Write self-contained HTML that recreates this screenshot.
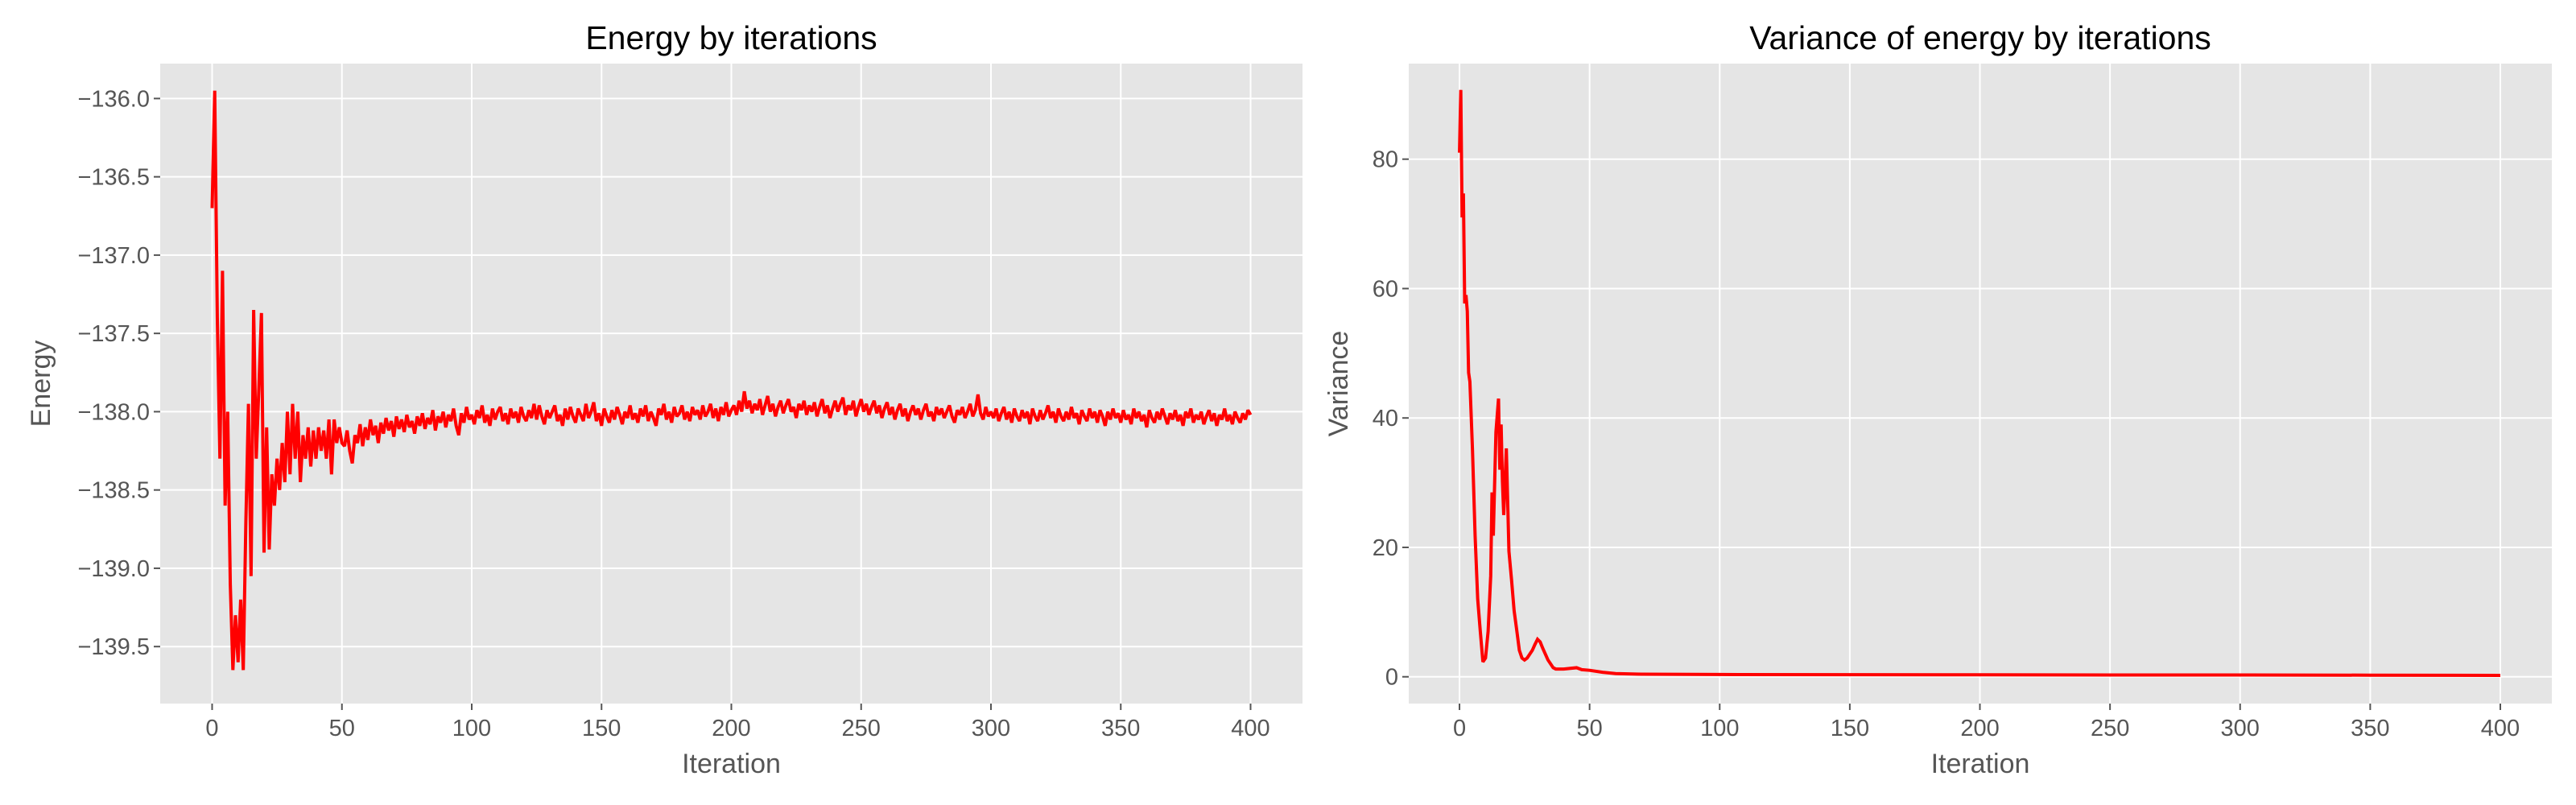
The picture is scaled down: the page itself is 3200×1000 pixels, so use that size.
<!DOCTYPE html>
<html><head><meta charset="utf-8"><style>
html,body{margin:0;padding:0;background:#fff;}
svg{display:block;font-family:"Liberation Sans",sans-serif;}
</style></head><body>
<svg id="fig" width="3200" height="1000" viewBox="0 0 3200 1000" xmlns="http://www.w3.org/2000/svg">
<rect width="3200" height="1000" fill="#fff"/>
<g id="left"></g>
<g id="right"></g>
</svg>
<script>
// Energy data (one value per iteration 0..400)
const energyVals = [
-136.7,-135.95,-137.4,-138.3,-137.1,-138.6,-138.0,-139.1,-139.65,-139.3,-139.6,-139.2,-139.65,-138.7,-137.95,-139.05,-137.35,-138.3,-137.85,-137.37,-138.9,-138.1,-138.88,-138.4,-138.6,-138.3,-138.5,-138.2,-138.45,-138.0,-138.4,-137.95,-138.3,-138.0,-138.45,-138.15,-138.3,-138.1,-138.35,-138.12,-138.3,-138.1,-138.25,-138.12,-138.3,-138.05,-138.4,-138.05,-138.2,-138.1,-138.2,
-138.22,-138.12,-138.25,-138.33,-138.15,-138.2,-138.08,-138.22,-138.1,-138.18,
-138.05,-138.15,-138.09,-138.2,-138.07,-138.14,-138.04,-138.12,-138.06,-138.16,
-138.03,-138.11,-138.05,-138.13,-138.02,-138.1,-138.06,-138.14,-138.03,-138.09,
-138.01,-138.11,-138.04,-138.08,-137.99,-138.12,-138.03,-138.07,-138.0,-138.1,
-138.02,-138.06,-137.98,-138.09,-138.15,-138.01,-138.07,-137.97,-138.05,-138.02,
-138.08,-137.99,-138.04,-137.96,-138.07,-138.02,-138.09,-137.98,-138.05,-138.0,
-137.97,-138.06,-138.01,-138.08,-137.98,-138.04,-138.0,-138.07,-137.97,-138.03,
-138.06,-137.99,-138.04,-137.95,-138.05,-137.96,-138.03,-138.08,-137.99,-138.04,
-138.0,-137.96,-138.06,-138.02,-138.09,-137.98,-138.05,-137.97,-138.03,-138.07,
-137.98,-138.02,-138.06,-137.95,-138.04,-138.0,-137.94,-138.06,-138.01,-138.09,
-137.98,-138.03,-138.07,-137.99,-138.05,-137.97,-138.02,-138.08,-138.0,-138.04,
-137.96,-138.05,-138.01,-138.07,-137.98,-138.03,-137.96,-138.06,-138.0,-138.04,
-138.09,-137.98,-138.02,-137.95,-138.05,-138.0,-138.07,-137.97,-138.03,-138.01,
-137.96,-138.05,-138.0,-138.06,-137.97,-138.02,-137.99,-138.05,-137.96,-138.03,
-138.0,-137.95,-138.04,-137.98,-138.06,-137.97,-138.02,-137.94,-138.03,-137.99,
-137.96,-138.02,-137.93,-138.0,-137.87,-137.98,-137.93,-138.01,-137.95,-137.99,
-137.92,-138.02,-137.96,-137.9,-138.0,-137.95,-138.03,-137.97,-137.93,-138.01,
-137.96,-137.92,-138.0,-137.97,-138.04,-137.95,-137.99,-137.93,-138.02,-137.96,
-138.0,-137.94,-138.03,-137.97,-137.92,-138.01,-137.96,-138.04,-137.98,-137.93,
-138.0,-137.95,-137.91,-138.02,-137.96,-137.99,-137.93,-138.03,-137.97,-137.92,
-138.0,-137.95,-138.02,-137.97,-137.93,-138.01,-137.96,-138.04,-137.98,-137.94,
-138.02,-137.97,-138.05,-137.99,-137.95,-138.03,-137.98,-138.06,-138.0,-137.96,
-138.02,-137.98,-138.05,-137.99,-137.95,-138.03,-138.0,-138.06,-137.97,-138.02,
-137.98,-138.04,-138.0,-137.96,-138.03,-138.07,-137.99,-138.02,-137.97,-138.04,
-138.0,-137.95,-138.03,-137.99,-137.89,-138.01,-138.05,-137.97,-138.03,-138.0,
-138.04,-137.98,-138.06,-138.01,-137.97,-138.05,-138.0,-138.07,-137.98,-138.03,
-138.06,-137.99,-138.04,-138.0,-138.08,-137.98,-138.03,-138.06,-137.99,-138.05,
-138.01,-137.96,-138.04,-138.0,-138.07,-137.98,-138.03,-138.06,-138.0,-138.05,
-137.97,-138.04,-138.01,-138.08,-137.99,-138.03,-138.06,-137.98,-138.04,-138.0,
-138.07,-137.99,-138.03,-138.09,-138.0,-138.05,-137.98,-138.04,-138.01,-138.07,
-137.99,-138.05,-138.02,-138.08,-137.98,-138.04,-138.0,-138.06,-138.02,-138.1,
-137.99,-138.04,-138.07,-138.0,-138.05,-137.98,-138.03,-138.08,-138.01,-138.05,
-137.99,-138.06,-138.02,-138.09,-138.0,-138.04,-137.98,-138.07,-138.02,-138.05,
-138.0,-138.08,-138.03,-137.99,-138.06,-138.01,-138.09,-138.02,-138.05,-137.98,
-138.06,-138.02,-138.08,-138.0,-138.04,-138.07,-138.01,-138.05,-137.99,-138.02
];
const xTicks = [0,50,100,150,200,250,300,350,400];
const energyTicks = [-136.0,-136.5,-137.0,-137.5,-138.0,-138.5,-139.0,-139.5];
const energyTickLabels = ["\u2212136.0","\u2212136.5","\u2212137.0","\u2212137.5","\u2212138.0","\u2212138.5","\u2212139.0","\u2212139.5"];
// Variance data
const varIters = [0,0.5,1,1.5,2,2.5,3,3.5,4,5,6,7,8,9,10,11,12,12.5,13,14,15,15.5,16,16.5,17,18,19,20,21,22,23,24,25,26,27,28,29,30,31,32,33,34,35,36,37,40,45,47,50,55,60,70,80,100,150,200,250,300,350,400];
const varVals = [81,90.7,71,74.7,57.7,59,56.5,47,45.6,35,21.8,12,7,2.3,2.9,7,15.6,28.5,21.8,37.8,43,32,39,30.2,25,35.3,19.4,15,10.2,7.2,4.1,2.9,2.6,2.9,3.5,4.1,5,5.8,5.4,4.4,3.5,2.6,2,1.4,1.2,1.2,1.4,1.1,1.0,0.7,0.5,0.4,0.38,0.35,0.32,0.3,0.28,0.27,0.25,0.22];
const varTicks = [0,20,40,60,80];
const varTickLabels = ["0","20","40","60","80"];

const NS = "http://www.w3.org/2000/svg";
function mk(parent, tag, attrs, text){
  const e = document.createElementNS(NS, tag);
  for (const k in attrs) e.setAttribute(k, attrs[k]);
  if (text !== undefined) e.textContent = text;
  parent.appendChild(e);
  return e;
}
function drawChart(g, o){
  const X = v => o.x0 + (v - o.xmin) / (o.xmax - o.xmin) * (o.x1 - o.x0);
  const Y = v => o.y1 - (v - o.ymin) / (o.ymax - o.ymin) * (o.y1 - o.y0);
  const bg = mk(g, 'rect', {x:o.x0, y:o.y0, width:o.x1-o.x0, height:o.y1-o.y0, fill:'#e5e5e5'});
  
  
  o.xt.forEach(t => {
    const gl = mk(g, 'line', {x1:X(t), x2:X(t), y1:o.y0, y2:o.y1, stroke:'#fff', 'stroke-width':2});
    
    
    mk(g, 'line', {x1:X(t), x2:X(t), y1:o.y1, y2:o.y1+8, stroke:'#555', 'stroke-width':2});
    const tl = mk(g, 'text', {x:X(t), y:o.y1+40, 'text-anchor':'middle', 'font-size':29, fill:'#555'}, String(t));
    
    
  });
  o.yt.forEach((t, i) => {
    const gl = mk(g, 'line', {x1:o.x0, x2:o.x1, y1:Y(t), y2:Y(t), stroke:'#fff', 'stroke-width':2});
    
    
    mk(g, 'line', {x1:o.x0-8, x2:o.x0, y1:Y(t), y2:Y(t), stroke:'#555', 'stroke-width':2});
    const tl = mk(g, 'text', {x:o.x0-13, y:Y(t)+10, 'text-anchor':'end', 'font-size':29, fill:'#555'}, o.ytl[i]);
    
    
  });
  const pts = o.xs.map((x, i) => X(x).toFixed(2) + ',' + Y(o.ys[i]).toFixed(2)).join(' ');
  const line = mk(g, 'polyline', {points:pts, fill:'none', stroke:'#ff0000', 'stroke-width':4, 'stroke-linejoin':'miter', 'stroke-miterlimit':2});
  
  
  const cx = (o.x0 + o.x1) / 2;
  const title = mk(g, 'text', {x:cx, y:61, 'text-anchor':'middle', 'font-size':41, fill:'#000'}, o.title);
  
  
  const xl = mk(g, 'text', {x:cx, y:960, 'text-anchor':'middle', 'font-size':34, fill:'#555'}, 'Iteration');
  
  
  const yc = (o.y0 + o.y1) / 2;
  const yl = mk(g, 'text', {x:o.ylx, y:yc, 'text-anchor':'middle', 'font-size':34, fill:'#555', transform:'rotate(-90 ' + o.ylx + ' ' + yc + ')'}, o.ylabel);
  
  
}
const energyIters = energyVals.map((v, i) => i);
drawChart(document.getElementById('left'), {
  x0:199, x1:1618, y0:79, y1:874, xmin:-20, xmax:420, ymin:-139.864, ymax:-135.777,
  xt:xTicks, yt:energyTicks, ytl:energyTickLabels, xs:energyIters, ys:energyVals,
  title:'Energy by iterations', ylabel:'Energy', ylx:62, lineName:'energy-line'
});
drawChart(document.getElementById('right'), {
  x0:1750, x1:3170, y0:79, y1:874, xmin:-19.5, xmax:419.8, ymin:-4.14, ymax:94.77,
  xt:xTicks, yt:varTicks, ytl:varTickLabels, xs:varIters, ys:varVals,
  title:'Variance of energy by iterations', ylabel:'Variance', ylx:1674, lineName:'variance-line'
});
</script>
</body></html>
